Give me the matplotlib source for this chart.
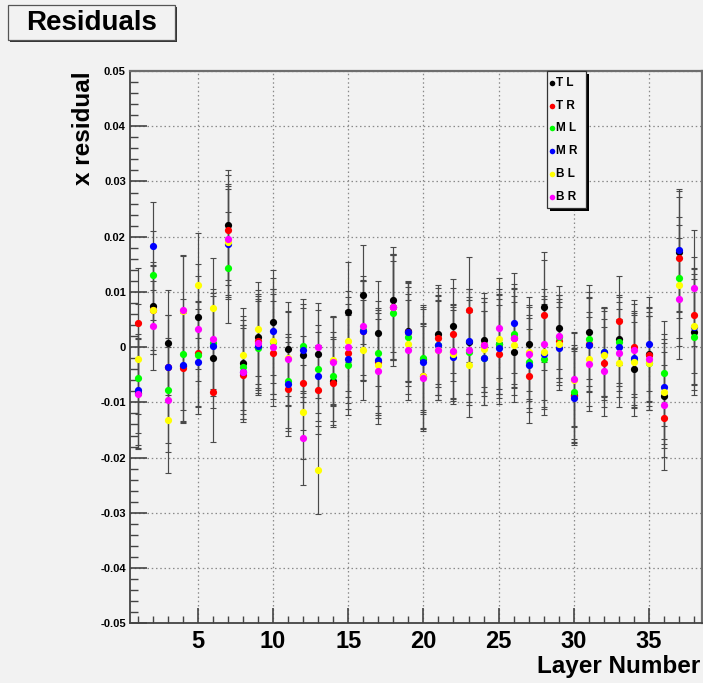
import numpy as np
import matplotlib
matplotlib.use('Agg')
from matplotlib import pyplot as plt
import matplotlib.patches as patches
from matplotlib.lines import Line2D
from matplotlib.ticker import MultipleLocator, FixedLocator, FixedFormatter

plt.rcParams['font.family'] = ['Liberation Sans', 'DejaVu Sans']
plt.rcParams['font.weight'] = 'bold'

# 数据 (单位 1e-3)
layers = np.arange(1, 39)
tl = [-8.3, 7.4, 0.8, -3.5, 5.5, -2.0, 22.1, -2.8, 1.8, 4.5, -0.3, -1.5, -1.2, -6.1, 6.4, 9.5, 2.5, 8.6, 2.9,
      -2.2, 2.3, 3.9, 1.0, 1.3, 0.5, -0.9, 0.5, 7.3, 3.5, -8.6, 2.8, -1.0, 1.5, -3.9, -1.2, -8.8, 17.3, 2.7]
tr = [4.4, 6.8, -3.6, -3.8, -1.1, -8.1, 21.2, -5.0, 1.1, -1.1, -7.6, -6.5, -7.7, -6.5, -1.1, 3.0, -2.7, 7.3, 2.7,
      -5.3, 1.7, 2.3, 6.8, 0.4, -1.3, 1.7, -5.3, 5.8, 1.2, -8.8, 0.6, -2.9, 4.8, 0.1, -1.5, -12.8, 16.2, 5.8]
ml = [-5.5, 13.0, -7.8, -1.3, -1.4, 0.8, 14.4, -3.6, -0.2, 1.0, -6.1, 0.2, -3.9, -5.3, -3.2, 3.1, -1.1, 6.1, 1.9,
      -1.9, 0.3, -0.8, -0.9, -1.9, 0.6, 2.4, -2.6, -2.2, 1.9, -8.1, 1.5, -0.9, 1.0, -2.4, -2.8, -4.7, 12.6, 1.8]
mr = [-7.7, 18.3, -3.6, -3.3, -2.6, 0.2, 18.7, -4.5, 0.2, 3.0, -6.7, -0.6, -5.3, -2.5, -2.2, 2.9, -2.4, 7.2, 2.8,
      -2.6, 0.4, -1.8, 1.1, -1.9, -0.2, 4.4, -3.2, -1.2, -0.2, -9.2, 0.4, -0.8, 0.1, -1.9, 0.5, -7.2, 17.6, 3.7]
bl = [-2.1, 6.7, -13.2, 6.5, 11.2, 7.1, 19.1, -1.5, 3.3, 1.1, -2.0, -11.8, -22.3, -2.3, 1.1, -0.5, -3.3, 7.2, 0.6,
      -5.2, -0.5, -1.3, -3.2, -0.4, 1.5, 0.3, -0.9, -0.8, 0.6, -5.9, -2.1, -1.5, -2.9, -2.6, -2.9, -8.1, 11.2, 3.8]
br = [-8.5, 3.9, -9.5, 6.7, 3.3, 1.5, 19.5, -4.5, 0.8, 0.1, -2.1, -16.4, 0.0, -2.6, 0.0, 3.9, -4.4, 7.3, -0.5,
      -5.6, -0.6, -0.7, -0.5, 0.4, 3.5, 1.6, -1.3, 0.5, 2.0, -5.8, -3.0, -4.4, -1.1, -0.6, -2.2, -10.4, 8.8, 10.7]
err = [10, 8, 9.5, 10, 9.5, 9, 10, 8.5, 8.5, 9.5, 8.5, 8.5, 8, 8, 9, 9, 9.5, 9.5, 9,
       9.5, 9, 8.5, 9.5, 8.5, 9, 9, 8.5, 10, 7.5, 8.5, 8.5, 8, 8, 8.5, 8.5, 9.5, 11, 10.5]

series = [('T L', tl, '#000000'), ('T R', tr, '#ff0000'), ('M L', ml, '#00ff00'),
          ('M R', mr, '#0000ff'), ('B L', bl, '#ffff00'), ('B R', br, '#ff00ff')]
ytick_vals = [-0.05, -0.04, -0.03, -0.02, -0.01, 0, 0.01, 0.02, 0.03, 0.04, 0.05]
ytick_labels = ['-0.05', '-0.04', '-0.03', '-0.02', '-0.01', '0', '0.01', '0.02', '0.03', '0.04', '0.05']

bg = '#f2f2f2'
W, H = 703, 683
fig = plt.figure(figsize=(W / 100, H / 100), dpi=100, facecolor=bg)
ax = fig.add_axes([130 / W, 1 - 623.3 / H, 571.7 / W, 552.3 / H], facecolor=bg)

e = np.array(err) * 1e-3
# 误差棒
for name, vals, col in series:
    ax.errorbar(layers, np.array(vals) * 1e-3, yerr=e, fmt='none', ecolor='#4a4a4a',
                elinewidth=0.85, capsize=2, capthick=0.8, zorder=2)
# 数据点
for name, vals, col in series:
    ax.plot(layers, np.array(vals) * 1e-3, 'o', color=col, markersize=5.2, markeredgewidth=0, zorder=3)

ax.set_xlim(0.5, 38.5)
ax.set_ylim(-0.05, 0.05)

ax.xaxis.set_major_locator(MultipleLocator(5))
ax.xaxis.set_minor_locator(MultipleLocator(1))
ax.yaxis.set_major_locator(FixedLocator(ytick_vals))
ax.yaxis.set_major_formatter(FixedFormatter(ytick_labels))
ax.yaxis.set_minor_locator(MultipleLocator(0.002))

ax.tick_params(axis='both', which='both', direction='in', colors='#444444')
ax.tick_params(axis='x', which='major', length=11, width=1.2, labelsize=17, pad=5, labelcolor='black')
ax.tick_params(axis='x', which='minor', length=5, width=1.0)
ax.tick_params(axis='y', which='major', length=12, width=1.2, labelsize=8, pad=3, labelcolor='black')
ax.tick_params(axis='y', which='minor', length=6, width=1.0)
for lab in ax.get_xticklabels() + ax.get_yticklabels():
    lab.set_fontweight('bold')

ax.grid(True, which='major', color='#8a8a8a', linestyle=(0, (1.2, 2.2)), linewidth=0.9)
ax.set_axisbelow(True)
for side in ['left', 'bottom']:
    ax.spines[side].set_color('#444444')
    ax.spines[side].set_linewidth(1.3)
for side in ['top', 'right']:
    ax.spines[side].set_color('#6e6e6e')
    ax.spines[side].set_linewidth(1.6)

# 轴标题
ax.text(-0.0805, 1.0, 'x residual', rotation=90, ha='center', va='top', fontsize=17.5,
        fontweight='bold', transform=ax.transAxes)
ax.text(0.997, -0.079, 'Layer Number', ha='right', va='center', fontsize=17.5,
        fontweight='bold', transform=ax.transAxes)

# 图例 (手动绘制, ROOT 风格)
lx0, lx1, ly1, ly0 = 0.729, 0.797, 1.0, 0.752
sh = patches.Rectangle((lx0 + 0.005, ly0 - 0.006), lx1 - lx0, ly1 - ly0, transform=ax.transAxes,
                       facecolor='black', edgecolor='none', zorder=4, clip_on=False)
box = patches.Rectangle((lx0, ly0), lx1 - lx0, ly1 - ly0, transform=ax.transAxes,
                        facecolor=bg, edgecolor='#333333', linewidth=0.9, zorder=5, clip_on=False)
ax.add_patch(sh)
ax.add_patch(box)
for i, (name, vals, col) in enumerate(series):
    yy = 0.979 - i * 0.0415
    ax.add_line(Line2D([0.7376], [yy], marker='o', color=col, markersize=4, markeredgewidth=0,
                       transform=ax.transAxes, zorder=6))
    ax.text(0.745, yy, name, ha='left', va='center', fontsize=8.5, fontweight='bold',
            transform=ax.transAxes, zorder=6)

# 标题框
tshadow = patches.Rectangle((10 / W, 1 - 42 / H), 167 / W, 35 / H, transform=fig.transFigure,
                            facecolor='#333333', edgecolor='none')
tbox = patches.Rectangle((8 / W, 1 - 40 / H), 167 / W, 35 / H, transform=fig.transFigure,
                         facecolor=bg, edgecolor='#555555', linewidth=0.9)
fig.patches.extend([tshadow, tbox])
fig.text(91.5 / W, 1 - 22.5 / H, 'Residuals', ha='center', va='center', fontsize=20, fontweight='bold')

fig.savefig('out.png', dpi=100, facecolor=bg)
